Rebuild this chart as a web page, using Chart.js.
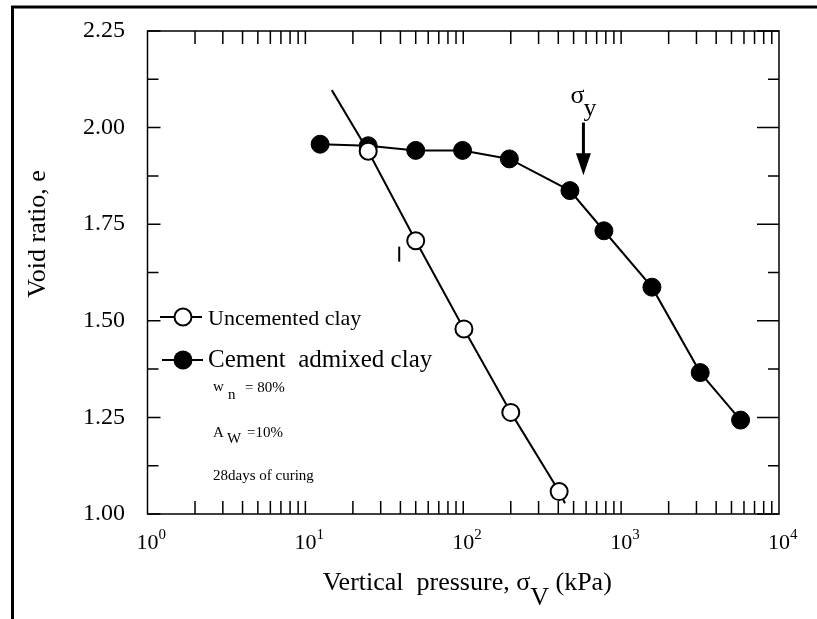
<!DOCTYPE html>
<html>
<head>
<meta charset="utf-8">
<script src="https://cdn.jsdelivr.net/npm/chart.js@4.4.1/dist/chart.umd.min.js"></script>
<style>
  body { margin: 0; background: #fff; }
  canvas { display: block; }
</style>
</head>
<body>
<canvas id="voidChart" width="817" height="619"></canvas>
<script>
// Data
const pressureCemented = [12.4, 25, 50, 99, 196, 474, 778, 1567, 3170, 5710];
const voidCemented = [1.957, 1.953, 1.941, 1.941, 1.919, 1.837, 1.733, 1.587, 1.366, 1.243];
const pressureUncemented = [25, 50, 101, 200, 405];
const voidUncemented = [1.939, 1.707, 1.479, 1.263, 1.058];
// straight line through uncemented points runs a bit past both ends
const fitTop = [14.7, 2.097];
const fitBottom = [441, 1.028];
// yield stress arrow: pressure, e top, e tip
const yieldArrow = [577, 2.013, 1.877];

const yTickValues = [1.0, 1.25, 1.5, 1.75, 2.0, 2.25];
const xDecades = [1, 10, 100, 1000, 10000];

const FONT = "'Liberation Serif', 'Times New Roman', serif";

const toPoints = (xs, ys) => xs.map((x, i) => ({ x: x, y: ys[i] }));

// Axes, frame and all the text are drawn by hand
const figurePlugin = {
  id: "figure",
  beforeDatasetsDraw(chart) {
    const ctx = chart.ctx;
    const a = chart.chartArea;
    const xs = chart.scales.x;
    const ys = chart.scales.y;
    ctx.save();
    ctx.strokeStyle = "#000";
    ctx.lineWidth = 1.5;

    // y ticks, left and right
    ctx.beginPath();
    yTickValues.forEach((v, i) => {
      const py = ys.getPixelForValue(v);
      ctx.moveTo(a.left, py); ctx.lineTo(a.left + 13, py);
      ctx.moveTo(a.right, py); ctx.lineTo(a.right - 22, py);
      if (i < yTickValues.length - 1) {
        const my = ys.getPixelForValue(v + 0.125);
        ctx.moveTo(a.left, my); ctx.lineTo(a.left + 11, my);
        ctx.moveTo(a.right, my); ctx.lineTo(a.right - 11, my);
      }
    });
    // x ticks, bottom and top
    xDecades.forEach((d, i) => {
      if (i === xDecades.length - 1) return;
      for (let m = 1; m <= 9; m++) {
        if (i === 0 && m === 1) continue;
        const px = xs.getPixelForValue(d * m);
        ctx.moveTo(px, a.bottom); ctx.lineTo(px, a.bottom - 13);
        ctx.moveTo(px, a.top); ctx.lineTo(px, a.top + 13);
      }
    });
    ctx.stroke();

    // plot frame
    ctx.strokeRect(a.left, a.top, a.right - a.left, a.bottom - a.top);

    // figure border (top and left only)
    ctx.lineWidth = 3;
    ctx.beginPath();
    ctx.moveTo(12.5, 619); ctx.lineTo(12.5, 7); ctx.lineTo(817, 7);
    ctx.stroke();

    // small stray mark left of the uncemented line
    ctx.lineWidth = 2;
    ctx.beginPath();
    ctx.moveTo(xs.getPixelForValue(39.3), ys.getPixelForValue(1.692));
    ctx.lineTo(xs.getPixelForValue(39.3), ys.getPixelForValue(1.653));
    ctx.stroke();

    // tick labels
    ctx.fillStyle = "#000";
    ctx.font = "24px " + FONT;
    ctx.textAlign = "right";
    ctx.textBaseline = "middle";
    yTickValues.forEach(v => {
      ctx.fillText(v.toFixed(2), 125, ys.getPixelForValue(v));
    });
    ctx.textBaseline = "alphabetic";
    xDecades.forEach((d, i) => {
      const px = xs.getPixelForValue(d);
      ctx.font = "22px " + FONT;
      ctx.textAlign = "center";
      ctx.fillText("10", px, 549);
      ctx.font = "15px " + FONT;
      ctx.textAlign = "left";
      ctx.fillText(String(i), px + 11, 539);
    });

    // axis titles
    ctx.font = "26px " + FONT;
    ctx.textAlign = "left";
    const t1 = "Vertical  pressure, \u03C3";
    const t2 = "V";
    const t3 = " (kPa)";
    const w1 = ctx.measureText(t1).width;
    const w2 = ctx.measureText(t2).width;
    const w3 = ctx.measureText(t3).width;
    let tx = (a.left + a.right) / 2 + 4 - (w1 + w2 + w3) / 2;
    ctx.fillText(t1, tx, 590);
    ctx.fillText(t2, tx + w1, 605);
    ctx.fillText(t3, tx + w1 + w2, 590);

    ctx.save();
    ctx.translate(45, 234);
    ctx.rotate(-Math.PI / 2);
    ctx.textAlign = "center";
    ctx.fillText("Void ratio, e", 0, 0);
    ctx.restore();

    // yield arrow and label
    const ax = xs.getPixelForValue(yieldArrow[0]);
    const aTop = ys.getPixelForValue(yieldArrow[1]);
    const aTip = ys.getPixelForValue(yieldArrow[2]);
    ctx.lineWidth = 3;
    ctx.beginPath();
    ctx.moveTo(ax, aTop); ctx.lineTo(ax, aTip - 20);
    ctx.stroke();
    ctx.beginPath();
    ctx.moveTo(ax - 7.5, aTip - 22); ctx.lineTo(ax + 7.5, aTip - 22); ctx.lineTo(ax, aTip);
    ctx.closePath();
    ctx.fill();
    ctx.font = "26px " + FONT;
    ctx.textAlign = "left";
    ctx.fillText("\u03C3", ax - 13, 103);
    ctx.fillText("y", ax, 116);

    // legend
    ctx.lineWidth = 2;
    ctx.beginPath();
    ctx.moveTo(160, 317); ctx.lineTo(202, 317);
    ctx.moveTo(162, 360); ctx.lineTo(203, 360);
    ctx.stroke();
    ctx.beginPath();
    ctx.arc(183, 317, 8.5, 0, Math.PI * 2);
    ctx.fillStyle = "#fff";
    ctx.fill();
    ctx.stroke();
    ctx.fillStyle = "#000";
    ctx.beginPath();
    ctx.arc(183, 360, 9.5, 0, Math.PI * 2);
    ctx.fill();
    ctx.font = "22px " + FONT;
    ctx.fillText("Uncemented clay", 208, 325);
    ctx.font = "25px " + FONT;
    ctx.fillText("Cement  admixed clay", 208, 367);

    // test conditions
    ctx.font = "15px " + FONT;
    ctx.fillText("w", 213, 391);
    ctx.fillText("n", 228, 399);
    ctx.fillText("= 80%", 245, 392);
    ctx.fillText("A", 213, 437);
    ctx.fillText("W", 227, 443);
    ctx.fillText("=10%", 247, 437);
    ctx.fillText("28days of curing", 213, 480);
    ctx.restore();
  }
};

new Chart(document.getElementById("voidChart"), {
  type: "scatter",
  data: {
    datasets: [
      {
        label: "Uncemented clay",
        data: toPoints(pressureUncemented, voidUncemented),
        showLine: true,
        borderColor: "#000",
        borderWidth: 2,
        pointRadius: 8.5,
        pointBorderWidth: 2,
        pointBackgroundColor: "#fff",
        pointBorderColor: "#000",
        order: 0,
        clip: false
      },
      {
        label: "fit top",
        data: toPoints([fitTop[0], pressureUncemented[0]], [fitTop[1], voidUncemented[0]]),
        showLine: true,
        borderColor: "#000",
        borderWidth: 2,
        pointRadius: 0,
        order: 2,
        clip: false
      },
      {
        label: "fit bottom",
        data: toPoints([pressureUncemented[4], fitBottom[0]], [voidUncemented[4], fitBottom[1]]),
        showLine: true,
        borderColor: "#000",
        borderWidth: 2,
        pointRadius: 0,
        order: 2,
        clip: false
      },
      {
        label: "Cement admixed clay",
        data: toPoints(pressureCemented, voidCemented),
        showLine: true,
        borderColor: "#000",
        borderWidth: 2,
        pointRadius: 9,
        pointBorderWidth: 1,
        pointBackgroundColor: "#000",
        pointBorderColor: "#000",
        order: 1,
        clip: false
      }
    ]
  },
  options: {
    responsive: false,
    animation: false,
    devicePixelRatio: 1,
    layout: { padding: { left: 147.5, top: 31, right: 38, bottom: 105 } },
    scales: {
      x: { type: "logarithmic", min: 1, max: 10000, display: false },
      y: { type: "linear", min: 1, max: 2.25, display: false }
    },
    plugins: {
      legend: { display: false },
      tooltip: { enabled: false }
    }
  },
  plugins: [figurePlugin]
});
</script>
</body>
</html>
